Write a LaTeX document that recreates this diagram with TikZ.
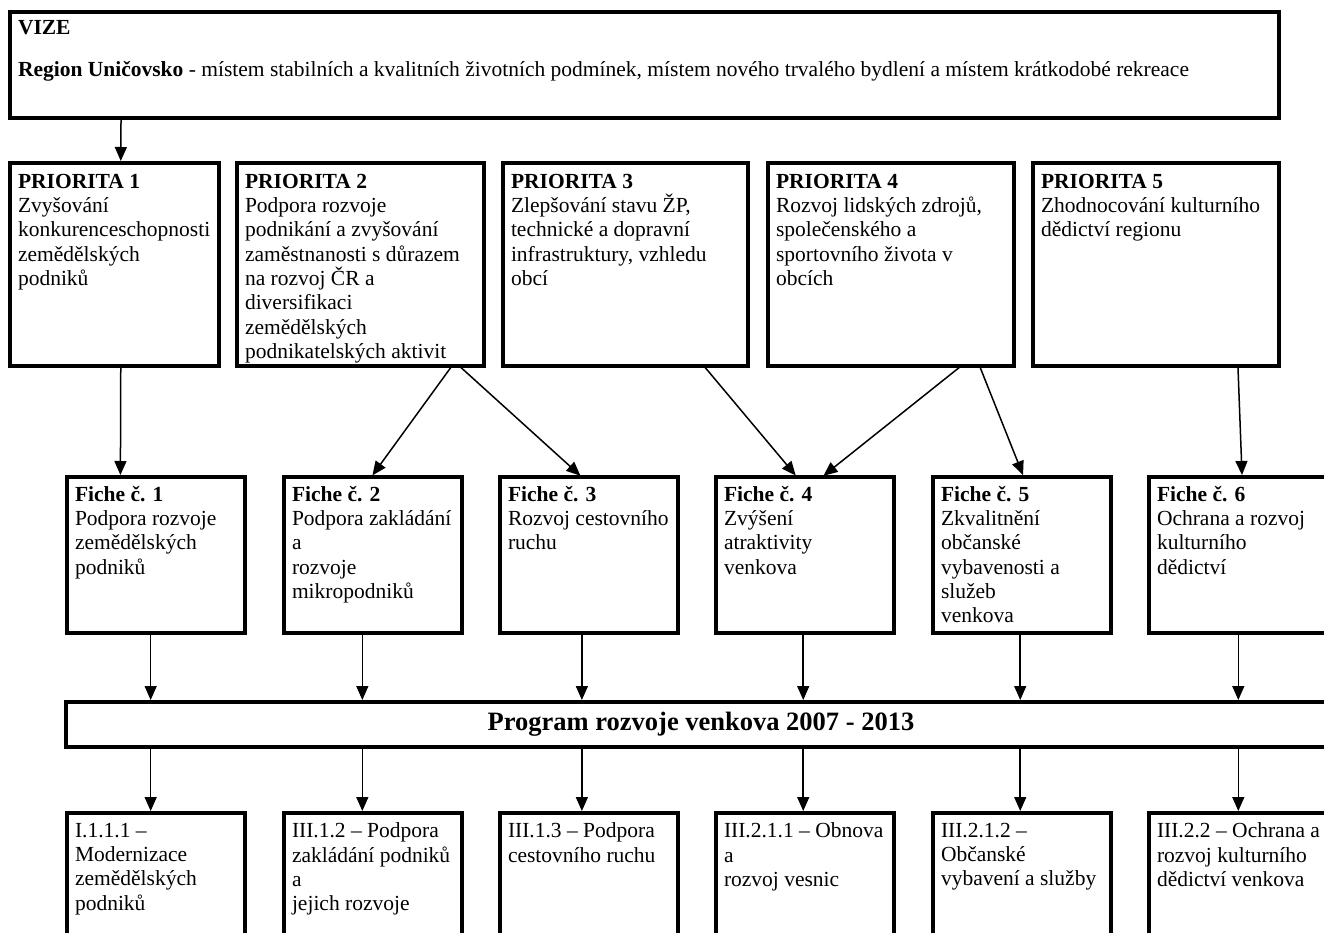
\documentclass[tikz,border=0pt]{standalone}
\usepackage{fontspec}
\setmainfont{Liberation Serif}
\usetikzlibrary{arrows.meta,calc}
\newcommand\bt[3]{\parbox[c][#2][t]{#1}{\raggedright #3}}
\begin{document}
\begin{tikzpicture}[x=1pt,y=-1pt,
  bx/.style={draw, line width=4pt, line join=miter, anchor=north west, inner xsep=8pt, inner ysep=5pt, outer sep=0pt, font=\fontsize{21.5}{24.3}\selectfont, align=left},
  arr/.style={line width=1.5pt, -{Triangle[length=14pt,width=12pt]}, shorten >=2pt, shorten <=2pt}]
\useasboundingbox (0,0) rectangle (1324,933);
\fill[white] (0,0) rectangle (1324,933);

% vision
\node[bx, inner ysep=8pt] (vize) at (10,12) {\bt{1253pt}{90pt}{\textbf{VIZE}\\[18pt]\textbf{Region Uničovsko} - místem stabilních a kvalitních životních podmínek, místem nového trvalého bydlení a místem krátkodobé rekreace}};

% priorities
\node[bx, inner ysep=11pt] (p1) at (10,163) {\bt{193pt}{181pt}{\textbf{PRIORITA 1}\\Zvyšování\\konkurenceschopnosti\\zemědělských\\podniků}};
\node[bx, inner ysep=11pt] (p2) at (237,163) {\bt{231pt}{181pt}{\textbf{PRIORITA 2}\\Podpora rozvoje\\podnikání a zvyšování\\zaměstnanosti s důrazem\\na rozvoj ČR a\\diversifikaci\\zemědělských\\podnikatelských aktivit}};
\node[bx, inner ysep=11pt] (p3) at (503,163) {\bt{229pt}{181pt}{\textbf{PRIORITA 3}\\Zlepšování stavu ŽP,\\technické a dopravní\\infrastruktury, vzhledu\\obcí}};
\node[bx, inner ysep=11pt] (p4) at (768,163) {\bt{230pt}{181pt}{\textbf{PRIORITA 4}\\Rozvoj lidských zdrojů,\\společenského a\\sportovního života v\\obcích}};
\node[bx, inner ysep=11pt] (p5) at (1033,163) {\bt{230pt}{181pt}{\textbf{PRIORITA 5}\\Zhodnocování kulturního\\dědictví regionu}};

% fiches
\node[bx, inner ysep=9pt] (f1) at (67,477) {\bt{162pt}{138pt}{\textbf{Fiche č. 1}\\Podpora rozvoje\\zemědělských\\podniků}};
\node[bx, inner ysep=9pt] (f2) at (284,477) {\bt{162pt}{138pt}{\textbf{Fiche č. 2}\\Podpora zakládání\\a\\rozvoje\\mikropodniků}};
\node[bx, inner ysep=9pt] (f3) at (500,477) {\bt{162pt}{138pt}{\textbf{Fiche č. 3}\\Rozvoj cestovního\\ruchu}};
\node[bx, inner ysep=9pt] (f4) at (716,477) {\bt{162pt}{138pt}{\textbf{Fiche č. 4}\\Zvýšení\\atraktivity\\venkova}};
\node[bx, inner ysep=9pt] (f5) at (933,477) {\bt{162pt}{138pt}{\textbf{Fiche č. 5}\\Zkvalitnění\\občanské\\vybavenosti a\\služeb\\venkova}};
\node[bx, inner ysep=9pt] (f6) at (1149,477) {\bt{174pt}{138pt}{\textbf{Fiche č. 6}\\Ochrana a rozvoj\\kulturního\\dědictví}};

% programme
\node[draw, line width=4pt, line join=miter, anchor=north west, outer sep=0pt, inner sep=0pt, minimum width=1270pt, minimum height=45pt, font=\bfseries\fontsize{26.5}{30}\selectfont] (prog) at (66,702) {Program rozvoje venkova 2007 - 2013};

% measures
\node[bx, inner ysep=10pt] (b1) at (67,813) {\bt{162pt}{180pt}{I.1.1.1 –\\Modernizace\\zemědělských\\podniků}};
\node[bx, inner ysep=10pt] (b2) at (284,813) {\bt{162pt}{180pt}{III.1.2 – Podpora\\zakládání podniků\\a\\jejich rozvoje}};
\node[bx, inner ysep=10pt] (b3) at (500,813) {\bt{162pt}{180pt}{III.1.3 – Podpora\\cestovního ruchu}};
\node[bx, inner ysep=10pt] (b4) at (716,813) {\bt{162pt}{180pt}{III.2.1.1 – Obnova\\a\\rozvoj vesnic}};
\node[bx, inner ysep=10pt] (b5) at (933,813) {\bt{162pt}{180pt}{III.2.1.2 –\\Občanské\\vybavení a služby}};
\node[bx, inner ysep=10pt] (b6) at (1149,813) {\bt{174pt}{180pt}{III.2.2 – Ochrana a\\rozvoj kulturního\\dědictví venkova}};

% connectors: vision -> priority 1
\draw[arr] ($(vize.south west)!0.0875!(vize.south east)$) -- ($(p1.north west)!0.53!(p1.north east)$);
% priorities -> fiches
\draw[arr] ($(p1.south west)!0.53!(p1.south east)$) -- ($(f1.north west)!0.30!(f1.north east)$);
\draw[arr] ($(p2.south west)!0.87!(p2.south east)$) -- ($(f2.north west)!0.49!(f2.north east)$);
\draw[arr] ($(p2.south west)!0.90!(p2.south east)$) -- ($(f3.north west)!0.46!(f3.north east)$);
\draw[arr] ($(p3.south west)!0.82!(p3.south east)$) -- ($(f4.north west)!0.455!(f4.north east)$);
\draw[arr] ($(p4.south west)!0.785!(p4.south east)$) -- ($(f4.north west)!0.595!(f4.north east)$);
\draw[arr] ($(p4.south west)!0.86!(p4.south east)$) -- ($(f5.north west)!0.51!(f5.north east)$);
\draw[arr] ($(p5.south west)!0.833!(p5.south east)$) -- ($(f6.north west)!0.49!(f6.north east)$);
% fiches -> programme -> measures
\foreach \f/\b/\r in {f1/b1/0.47, f2/b2/0.44, f3/b3/0.46, f4/b4/0.49, f5/b5/0.49, f6/b6/0.47}{
  \coordinate (c) at ($(\f.south west)!\r!(\f.south east)$);
  \draw[arr] (c) -- (c |- prog.north);
  \draw[arr] (c |- prog.south) -- (c |- \b.north);
}
\end{tikzpicture}
\end{document}
